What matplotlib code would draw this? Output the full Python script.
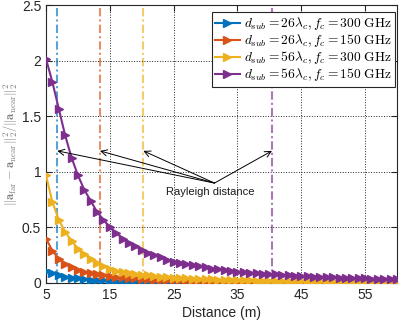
import matplotlib
matplotlib.use('Agg')

import numpy as np
import matplotlib.pyplot as plt

# distance axis (m), one sample per metre
distance = np.arange(5, 61)

# normalised error curves
err_26_300 = [0.110, 0.088, 0.071, 0.058, 0.049, 0.042, 0.036, 0.031, 0.027, 0.024,
              0.021, 0.019, 0.017, 0.015, 0.014, 0.013, 0.012, 0.011, 0.010, 0.009,
              0.0085, 0.008, 0.0075, 0.007, 0.0066, 0.0062, 0.0058, 0.0055, 0.0052, 0.0049,
              0.0046, 0.0044, 0.0042, 0.0040, 0.0038, 0.0036, 0.0034, 0.0033, 0.0032, 0.0030,
              0.0029, 0.0028, 0.0027, 0.0026, 0.0025, 0.0024, 0.0023, 0.0022, 0.0022, 0.0021,
              0.0020, 0.0020, 0.0019, 0.0018, 0.0018, 0.0017]
err_26_150 = [0.400, 0.290, 0.220, 0.170, 0.140, 0.115, 0.100, 0.088, 0.078, 0.069,
              0.062, 0.056, 0.050, 0.045, 0.041, 0.037, 0.034, 0.031, 0.029, 0.027,
              0.025, 0.023, 0.021, 0.020, 0.019, 0.018, 0.017, 0.016, 0.015, 0.014,
              0.013, 0.012, 0.012, 0.011, 0.011, 0.010, 0.0097, 0.0093, 0.0089, 0.0085,
              0.0081, 0.0078, 0.0075, 0.0072, 0.0069, 0.0066, 0.0064, 0.0062, 0.0060, 0.0058,
              0.0056, 0.0054, 0.0052, 0.0050, 0.0049, 0.0047]
err_56_300 = [0.970, 0.730, 0.570, 0.460, 0.380, 0.310, 0.260, 0.220, 0.180, 0.150,
              0.130, 0.110, 0.100, 0.090, 0.080, 0.075, 0.068, 0.062, 0.057, 0.052,
              0.048, 0.045, 0.042, 0.039, 0.036, 0.034, 0.032, 0.030, 0.028, 0.027,
              0.025, 0.024, 0.023, 0.022, 0.021, 0.020, 0.019, 0.018, 0.017, 0.016,
              0.015, 0.0145, 0.014, 0.0135, 0.013, 0.0125, 0.012, 0.0115, 0.011, 0.0106,
              0.0102, 0.0098, 0.0095, 0.0092, 0.0089, 0.0086]
err_56_150 = [2.020, 1.810, 1.570, 1.330, 1.130, 0.970, 0.840, 0.740, 0.640, 0.570,
              0.500, 0.450, 0.400, 0.360, 0.330, 0.300, 0.270, 0.250, 0.230, 0.210,
              0.190, 0.180, 0.170, 0.160, 0.150, 0.140, 0.130, 0.123, 0.116, 0.109,
              0.103, 0.098, 0.093, 0.089, 0.085, 0.081, 0.077, 0.074, 0.070, 0.067,
              0.064, 0.061, 0.058, 0.056, 0.053, 0.051, 0.049, 0.047, 0.045, 0.043,
              0.042, 0.040, 0.039, 0.037, 0.036, 0.035]

# Rayleigh distance of each configuration (m)
rayleigh = [6.77, 13.46, 20.25, 40.4]

labels = [r'$d_{sub}=26\lambda_c, f_c=300\ \mathrm{GHz}$',
          r'$d_{sub}=26\lambda_c, f_c=150\ \mathrm{GHz}$',
          r'$d_{sub}=56\lambda_c, f_c=300\ \mathrm{GHz}$',
          r'$d_{sub}=56\lambda_c, f_c=150\ \mathrm{GHz}$']
colors = ['#0072BD', '#D95319', '#EDB120', '#7E2F8E']
series = [err_26_300, err_26_150, err_56_300, err_56_150]

plt.rcParams['font.family'] = ['Liberation Sans', 'DejaVu Sans']
plt.rcParams['mathtext.fontset'] = 'cm'

fig = plt.figure(figsize=(4, 3.23), dpi=100)
ax = fig.add_axes([0.115, 0.124, 0.8775, 0.859])

# vertical dash-dot markers of the Rayleigh distances
for r, c in zip(rayleigh, colors):
    ax.axvline(r, color=c, ls=(0, (4, 1.5, 1, 1.5)), lw=1.5, alpha=0.65, zorder=1)

for y, c, lab in zip(series, colors, labels):
    ax.plot(distance, y, color=c, lw=1.5, marker='>', markersize=5.5, label=lab, zorder=3)

# arrows pointing at the Rayleigh lines
for r in rayleigh:
    ax.annotate('', xy=(r, 1.19), xytext=(31.4, 0.90),
                arrowprops=dict(arrowstyle='->', color='black', lw=0.7, shrinkA=0, shrinkB=0,
                                mutation_scale=11))
ax.text(30.7, 0.82, 'Rayleigh distance', fontsize=8, ha='center', va='center', color='#1a1a1a')

ax.set_xlim(5, 60)
ax.set_ylim(0, 2.5)
ax.set_xticks([5, 15, 25, 35, 45, 55])
ax.set_xticklabels(['5', '15', '25', '35', '45', '55'])
ax.set_yticks([0, 0.5, 1, 1.5, 2, 2.5])
ax.set_yticklabels(['0', '0.5', '1', '1.5', '2', '2.5'])
ax.tick_params(direction='in', top=True, right=True, labelsize=10, colors='#262626', length=4)
ax.grid(True, ls=':', color='#262626', lw=0.7)
for s in ax.spines.values():
    s.set_color('#262626')

ax.set_xlabel('Distance (m)', fontsize=10, color='#262626', labelpad=3)
ax.set_ylabel(r'$\|\mathbf{a}_{\mathrm{far}}-\mathbf{a}_{\mathrm{near}}\|_2^2/\|\mathbf{a}_{\mathrm{near}}\|_2^2$',
              fontsize=9, color='#808080', labelpad=1)

leg = ax.legend(loc='upper right', bbox_to_anchor=(0.9943, 0.9766), fontsize=9.7,
                handlelength=1.8, handletextpad=0.3, borderpad=0.25, labelspacing=0.0,
                fancybox=False, framealpha=1, edgecolor='#262626', borderaxespad=0)
leg.get_frame().set_linewidth(0.8)

plt.savefig('out.png', dpi=100)
plt.close('all')
